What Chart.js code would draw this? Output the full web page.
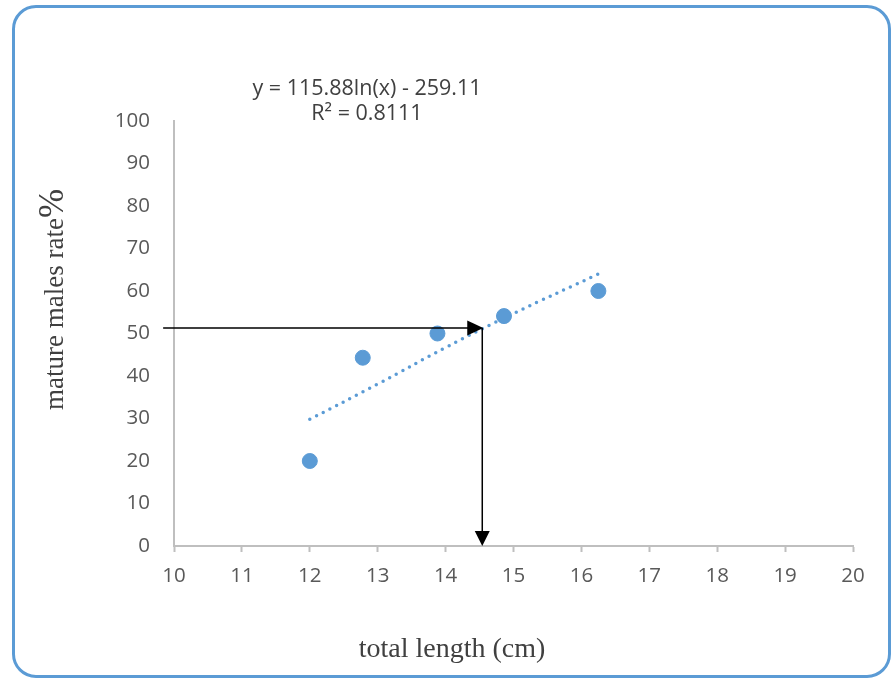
<!DOCTYPE html>
<html>
<head>
<meta charset="utf-8">
<script src="https://cdn.jsdelivr.net/npm/chart.js@4.4.1/dist/chart.umd.min.js"></script>
<style>
  body { margin: 0; background: #fff; }
  #wrap { position: relative; width: 894px; height: 680px; }
  #frame {
    position: absolute; left: 12px; top: 5px; width: 873px; height: 667px;
    border: 3px solid #5b9bd5; border-radius: 24px; pointer-events: none;
  }
</style>
</head>
<body>
<div id="wrap">
  <canvas id="chart"></canvas>
  <div id="frame"></div>
</div>
<script>
// observed points
const lengths = [12, 12.78, 13.88, 14.86, 16.25];
const maturePct = [20, 44.3, 50, 54.1, 60];

// log trend line
const trendX = [12, 13, 14, 15, 16.25];
const trendY = [29.8, 38.1, 46.7, 54.7, 64.0];

// the 50% read-off arrows
const arrowStartX = 9.84;
const arrowX = 14.54;
const arrowY = 51.3;

const xTicks = [10, 11, 12, 13, 14, 15, 16, 17, 18, 19, 20];
const yTicks = [0, 10, 20, 30, 40, 50, 60, 70, 80, 90, 100];

const blue = "#5b9bd5";
const tickFont = { family: "'Open Sans'", size: 20.5 };

const extras = {
  id: "extras",
  afterDraw(chart) {
    const ctx = chart.ctx;
    const xs = chart.scales.x, ys = chart.scales.y;
    ctx.save();

    // arrows
    ctx.strokeStyle = "#000";
    ctx.fillStyle = "#000";
    ctx.lineWidth = 1.5;
    const x0 = xs.getPixelForValue(arrowStartX);
    const x1 = xs.getPixelForValue(arrowX);
    const y1 = ys.getPixelForValue(arrowY);
    const y0 = ys.getPixelForValue(0);
    ctx.beginPath();
    ctx.moveTo(x0, y1); ctx.lineTo(x1 - 14, y1);
    ctx.moveTo(x1, y1); ctx.lineTo(x1, y0 - 14);
    ctx.stroke();
    ctx.beginPath();
    ctx.moveTo(x1 + 1, y1); ctx.lineTo(x1 - 15, y1 - 7.5); ctx.lineTo(x1 - 15, y1 + 7.5);
    ctx.closePath(); ctx.fill();
    ctx.beginPath();
    ctx.moveTo(x1, y0); ctx.lineTo(x1 - 7.5, y0 - 15); ctx.lineTo(x1 + 7.5, y0 - 15);
    ctx.closePath(); ctx.fill();

    // trend equation
    ctx.fillStyle = "#404040";
    ctx.font = "21.5px 'Open Sans'";
    ctx.textAlign = "center";
    ctx.textBaseline = "middle";
    ctx.fillText("y = 115.88ln(x) - 259.11", 367, 89);
    ctx.fillText("R² = 0.8111", 367, 114);

    // x axis title
    ctx.font = "28px 'Liberation Serif'";
    ctx.fillText("total length (cm)", 452, 650);

    // y axis title, % drawn bigger
    ctx.translate(63, 410);
    ctx.rotate(-Math.PI / 2);
    ctx.textAlign = "left";
    ctx.textBaseline = "alphabetic";
    ctx.font = "27px 'Liberation Serif'";
    const t = "mature males rate";
    ctx.fillText(t, 0, 0);
    const w = ctx.measureText(t).width;
    ctx.font = "35px 'Liberation Serif'";
    ctx.fillText("%", w, 0);
    ctx.restore();
  }
};

new Chart(document.getElementById("chart"), {
  type: "scatter",
  data: {
    datasets: [
      {
        label: "Log trend",
        data: trendX.map((x, i) => ({ x: x, y: trendY[i] })),
        showLine: true,
        borderColor: blue,
        borderWidth: 3.5,
        borderDash: [0, 7.5],
        borderCapStyle: "round",
        pointRadius: 0,
        tension: 0.4,
        order: 2
      },
      {
        label: "mature males",
        data: lengths.map((x, i) => ({ x: x, y: maturePct[i] })),
        backgroundColor: blue,
        borderColor: blue,
        pointRadius: 7.5,
        order: 1
      }
    ]
  },
  options: {
    responsive: true,
    maintainAspectRatio: false,
    animation: false,
    layout: { padding: { left: 0, top: 121, right: 41, bottom: 0 } },
    plugins: { legend: { display: false }, tooltip: { enabled: false } },
    scales: {
      x: {
        type: "linear",
        min: 10, max: 20,
        afterFit: (s) => { s.height = 134; },
        afterBuildTicks: (s) => { s.ticks = xTicks.map(v => ({ value: v })); },
        ticks: { color: "#595959", font: tickFont, padding: 12 },
        grid: { drawOnChartArea: false, drawTicks: true, tickLength: 6, tickColor: "#bfbfbf", tickWidth: 2 },
        border: { color: "#bfbfbf", width: 2 }
      },
      y: {
        min: 0, max: 100,
        afterFit: (s) => { s.width = 174; },
        afterBuildTicks: (s) => { s.ticks = yTicks.map(v => ({ value: v })); },
        ticks: { color: "#595959", font: tickFont, padding: 24 },
        grid: { drawOnChartArea: false, drawTicks: false },
        border: { color: "#bfbfbf", width: 2 }
      }
    }
  },
  plugins: [extras]
});
</script>
</body>
</html>
